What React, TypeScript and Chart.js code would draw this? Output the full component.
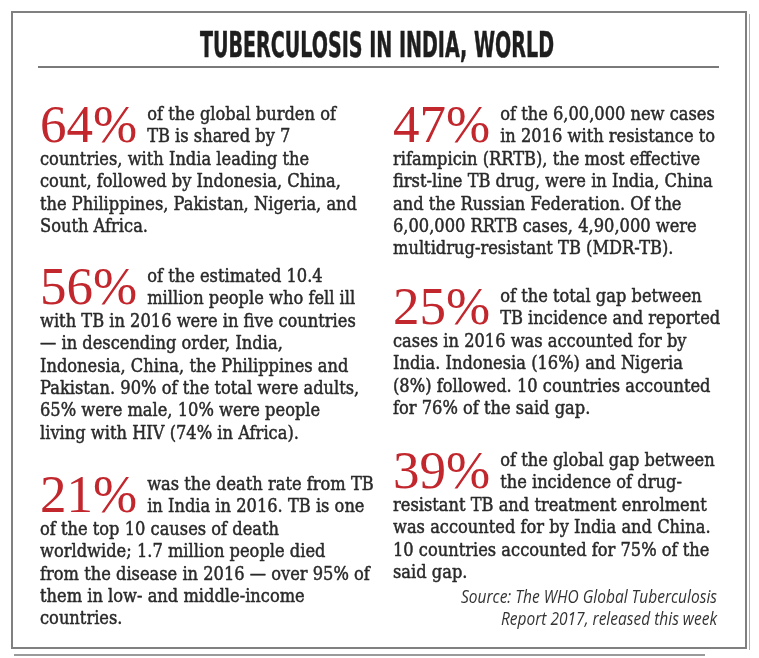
import { useEffect, useRef } from 'react';
import { Chart, registerables } from 'chart.js';

Chart.register(...registerables);

const TITLE = 'TUBERCULOSIS IN INDIA, WORLD';

const leftPercents = [64, 56, 21];
const rightPercents = [47, 25, 39];

const leftTexts: string[][] = [
  [
    'of the global burden of',
    'TB is shared by 7',
    'countries, with India leading the',
    'count, followed by Indonesia, China,',
    'the Philippines, Pakistan, Nigeria, and',
    'South Africa.',
  ],
  [
    'of the estimated 10.4',
    'million people who fell ill',
    'with TB in 2016 were in five countries',
    '\u2014 in descending order, India,',
    'Indonesia, China, the Philippines and',
    'Pakistan. 90% of the total were adults,',
    '65% were male, 10% were people',
    'living with HIV (74% in Africa).',
  ],
  [
    'was the death rate from TB',
    'in India in 2016. TB is one',
    'of the top 10 causes of death',
    'worldwide; 1.7 million people died',
    'from the disease in 2016 \u2014 over 95% of',
    'them in low- and middle-income',
    'countries.',
  ],
];

const rightTexts: string[][] = [
  [
    'of the 6,00,000 new cases',
    'in 2016 with resistance to',
    'rifampicin (RRTB), the most effective',
    'first-line TB drug, were in India, China',
    'and the Russian Federation. Of the',
    '6,00,000 RRTB cases, 4,90,000 were',
    'multidrug-resistant TB (MDR-TB).',
  ],
  [
    'of the total gap between',
    'TB incidence and reported',
    'cases in 2016 was accounted for by',
    'India. Indonesia (16%) and Nigeria',
    '(8%) followed. 10 countries accounted',
    'for 76% of the said gap.',
  ],
  [
    'of the global gap between',
    'the incidence of drug-',
    'resistant TB and treatment enrolment',
    'was accounted for by India and China.',
    '10 countries accounted for 75% of the',
    'said gap.',
  ],
];

const SOURCE = ['Source: The WHO Global Tuberculosis', 'Report 2017, released this week'];

const W = 759;
const H = 658;

const RED = '#c1272d';
const TEXT = '#2a2a2a';
const GRAY = '#808080';

const BODY_FONT = '18.5px "DejaVu Serif", "Liberation Serif", serif';
const BIG_FONT = '53px "Liberation Serif", "DejaVu Serif", serif';
const TITLE_FONT = 'bold 35px "Liberation Sans Narrow", "DejaVu Sans Condensed", "Liberation Sans", sans-serif';
const SOURCE_FONT = 'italic 18px "Open Sans", "Liberation Sans", sans-serif';

const LINE_H = 22.4;
const leftStarts = [120, 282, 490];
const rightStarts = [120, 302, 466];

const infoPlugin = {
  id: 'infographic',
  afterDraw(chart: any) {
    const ctx: CanvasRenderingContext2D = chart.ctx;
    const xs = chart.scales.x;
    const ys = chart.scales.y;
    const px = (v: number) => xs.getPixelForValue(v);
    const py = (v: number) => ys.getPixelForValue(v);

    ctx.save();
    ctx.fillStyle = '#ffffff';
    ctx.fillRect(0, 0, W, H);

    // frame
    ctx.strokeStyle = GRAY;
    ctx.lineWidth = 2;
    ctx.strokeRect(px(12), py(12), px(746) - px(12), py(648) - py(12));
    ctx.strokeStyle = '#b0b0b0';
    ctx.lineWidth = 1;
    ctx.beginPath();
    ctx.moveTo(px(749.5), py(14));
    ctx.lineTo(px(749.5), py(650));
    ctx.stroke();
    ctx.strokeStyle = '#9a9a9a';
    ctx.lineWidth = 2;
    ctx.beginPath();
    ctx.moveTo(px(14), py(655));
    ctx.lineTo(px(705), py(655));
    ctx.stroke();

    // title
    ctx.fillStyle = '#1e1e1e';
    ctx.font = TITLE_FONT;
    ctx.textBaseline = 'alphabetic';
    const tw = ctx.measureText(TITLE).width;
    const ts = 354 / tw;
    ctx.save();
    ctx.translate(px(377) - 177, py(57));
    ctx.scale(ts, 1);
    ctx.fillText(TITLE, 0, 0);
    ctx.strokeStyle = '#1e1e1e';
    ctx.lineWidth = 0.5;
    ctx.strokeText(TITLE, 0, 0);
    ctx.restore();

    // title underline
    ctx.strokeStyle = '#7a7a7a';
    ctx.lineWidth = 2;
    ctx.beginPath();
    ctx.moveTo(px(38), py(67));
    ctx.lineTo(px(719), py(67));
    ctx.stroke();

    // body scale
    ctx.font = BODY_FONT;
    const refW = ctx.measureText(leftTexts[0][4]).width;
    const bs = 317 / refW;

    const drawPara = (pct: number, lines: string[], x: number, y0: number) => {
      ctx.font = BIG_FONT;
      ctx.fillStyle = RED;
      const big = `${pct}%`;
      ctx.fillText(big, px(x), py(y0 + LINE_H));
      const bw = ctx.measureText(big).width;
      const indent = x + bw + 10;
      ctx.font = BODY_FONT;
      ctx.fillStyle = TEXT;
      ctx.strokeStyle = TEXT;
      ctx.lineWidth = 0.5;
      ctx.lineJoin = 'round';
      lines.forEach((ln, i) => {
        const lx = i < 2 ? indent : x;
        ctx.save();
        ctx.translate(px(lx), py(y0 + i * LINE_H));
        ctx.scale(bs, 1);
        ctx.fillText(ln, 0, 0);
        ctx.strokeText(ln, 0, 0);
        ctx.restore();
      });
    };

    leftPercents.forEach((p, i) => drawPara(p, leftTexts[i], 40, leftStarts[i]));
    rightPercents.forEach((p, i) => drawPara(p, rightTexts[i], 393, rightStarts[i]));

    // source
    ctx.font = SOURCE_FONT;
    ctx.fillStyle = '#333333';
    const sw = ctx.measureText(SOURCE[0]).width;
    const ss = 256 / sw;
    [603, 625].forEach((y, i) => {
      const w = ctx.measureText(SOURCE[i]).width * ss;
      ctx.save();
      ctx.translate(px(717) - w, py(y));
      ctx.scale(ss, 1);
      ctx.fillText(SOURCE[i], 0, 0);
      ctx.restore();
    });

    ctx.restore();
  },
};

export default function App() {
  const ref = useRef<HTMLCanvasElement | null>(null);
  useEffect(() => {
    if (!ref.current) return;
    let alive = true;
    const chart = new Chart(ref.current, {
      type: 'scatter',
      data: {
        datasets: [
          {
            label: 'percent',
            data: [],
          },
        ],
      },
      options: {
        animation: false,
        responsive: false,
        layout: { padding: 0 },
        plugins: { legend: { display: false }, tooltip: { enabled: false } },
        scales: {
          x: { type: 'linear', display: false, min: 0, max: W },
          y: { type: 'linear', display: false, min: 0, max: H, reverse: true },
        },
      },
      plugins: [infoPlugin],
    });
    const fonts = (document as any).fonts;
    if (fonts && fonts.load) {
      Promise.all([BODY_FONT, BIG_FONT, TITLE_FONT, SOURCE_FONT].map((f) => fonts.load(f, 'Ab1%')))
        .catch(() => null)
        .then(() => {
          if (alive) chart.draw();
        });
    }
    return () => {
      alive = false;
      chart.destroy();
    };
  }, []);
  return (
    <div style={{ position: 'absolute', left: 0, top: 0, width: W, height: H, background: '#fff' }}>
      <canvas ref={ref} width={W} height={H} style={{ display: 'block', width: W, height: H }} />
    </div>
  );
}
